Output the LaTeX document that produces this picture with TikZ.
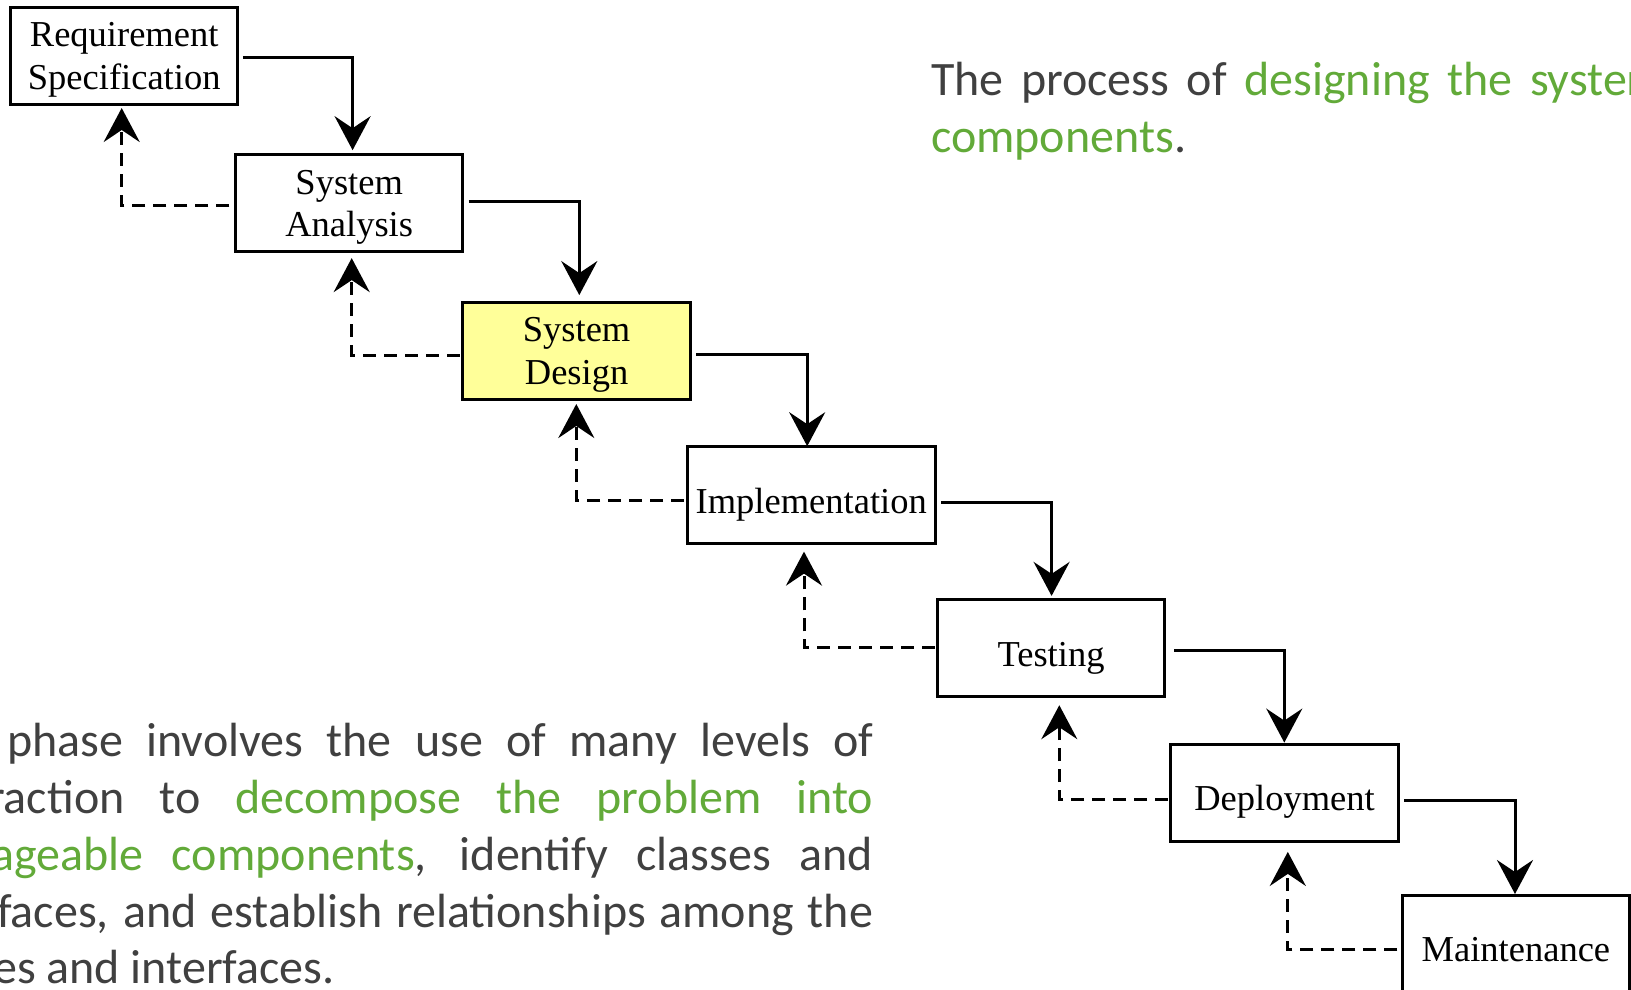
\documentclass[tikz,border=0pt]{standalone}
\usepackage{fontspec}
\setmainfont{Liberation Serif}
\newfontfamily\parafont{Carlito}
\usetikzlibrary{arrows.meta,calc}

\definecolor{bodygray}{RGB}{64,64,64}
\definecolor{keygreen}{RGB}{98,170,57}
\definecolor{paleyellow}{RGB}{255,255,153}
\newcommand{\keyterm}[1]{\textcolor{keygreen}{#1}}

\begin{document}
\begin{tikzpicture}[x=1pt,y=-1pt,
  phase/.style={draw=black, line width=3pt, minimum width=227.5pt,
    minimum height=97pt, inner sep=0pt, outer sep=0pt},
  phasetext/.style={anchor=base, inner sep=0pt,
    font=\fontsize{36.5}{43}\selectfont},
  tipstyle/.style={-{Stealth[length=34pt,width=36pt,inset=12pt]}},
  fwd/.style={line width=3pt, tipstyle},
  back/.style={line width=3pt, dash pattern=on 13pt off 8pt, tipstyle},
  para/.style={anchor=base west, inner sep=0pt, text=bodygray,
    font=\parafont\fontsize{48}{57}\selectfont}]

\useasboundingbox (0,0) rectangle (1631,989);
\clip (0,0) rectangle (1631,989);

% waterfall phases
\node[phase] (req)  at (124.2,55.7)  {};
\node[phase] (sa)   at (349.2,203)   {};
\node[phase, fill=paleyellow] (sd) at (576.6,350.9) {};
\node[phase, minimum width=247.7pt] (impl) at (811.2,495.4) {};
\node[phase] (test) at (1051,648.4)  {};
\node[phase] (dep)  at (1284.5,793.4) {};
\node[phase] (mnt)  at (1515.9,943.5) {};

% phase captions
\node[phasetext] (req-a)  at ($(req.center)+(0,-9)$)  {Requirement};
\node[phasetext] (req-b)  at ($(req.center)+(0,33.7)$) {Specification};
\node[phasetext] (sa-a)   at ($(sa.center)+(0,-9)$)   {System};
\node[phasetext] (sa-b)   at ($(sa.center)+(0,33.7)$) {Analysis};
\node[phasetext] (sd-a)   at ($(sd.center)+(0,-9.5)$) {System};
\node[phasetext] (sd-b)   at ($(sd.center)+(0,33.2)$) {Design};
\node[phasetext] (impl-a) at ($(impl.center)+(0,18.5)$) {Implementation};
\node[phasetext] (test-a) at ($(test.center)+(0,18)$) {Testing};
\node[phasetext] (dep-a)  at ($(dep.center)+(0,17)$)  {Deployment};
\node[phasetext] (mnt-a)  at ($(mnt.center)+(0,18)$)  {Maintenance};

% forward flow
\draw[fwd] ($(req.east)+(5,1.5)$)   -| ($(sa.north)+(3.4,-4.3)$);
\draw[fwd] ($(sa.east)+(5.7,-1.3)$) -| ($(sd.north)+(2.7,-7.3)$);
\draw[fwd] ($(sd.east)+(6,3.8)$)    -| ($(impl.north)+(-4,-0.7)$);
\draw[fwd] ($(impl.east)+(6,7.3)$)  -| ($(test.north)+(0.6,-4)$);
\draw[fwd] ($(test.east)+(9.7,1.6)$) -| ($(dep.north)+(-0.2,-2.3)$);
\draw[fwd] ($(dep.east)+(6,6.6)$)   -| ($(mnt.north)+(-0.9,-1)$);

% feedback to the previous phase
\draw[back] ($(sa.west)+(-6,2)$)      -| ($(req.south)+(-2.5,3.8)$);
\draw[back] ($(sd.west)+(-3.3,4.1)$)  -| ($(sa.south)+(2.5,6.6)$);
\draw[back] ($(impl.west)+(-3.3,4.6)$) -| ($(sd.south)+(-0.3,4.6)$);
\draw[back] ($(test.west)+(-2.7,-0.7)$) -| ($(impl.south)+(-7.2,7.7)$);
\draw[back] ($(dep.west)+(-2.7,5.9)$) -| ($(test.south)+(8.3,8.3)$);
\draw[back] ($(mnt.west)+(-4.7,5.8)$) -| ($(dep.south)+(3.3,10)$);

% description, upper right
\node[para] (top-1) at (931,95.3)
  {\spaceskip=17.5pt The process of \keyterm{designing the system}};
\node[para] (top-2) at (931,152.6) {\keyterm{components}.};

% description, lower left
\node[para] (low-1) at (7,756.7)
  {\makebox[866pt][s]{phase involves the use of many levels of}};
\node[para] (low-2) at (-12,813.5)
  {\makebox[885pt][s]{raction to \keyterm{decompose the problem into}}};
\node[para] (low-3) at (-9,870.2)
  {\makebox[882pt][s]{\keyterm{ageable components}, identify classes and}};
\node[para] (low-4) at (-3,927)
  {\makebox[876pt][s]{faces, and establish relationships among the}};
\node[para] (low-5) at (-7,983.7) {es and interfaces.};
\end{tikzpicture}
\end{document}
